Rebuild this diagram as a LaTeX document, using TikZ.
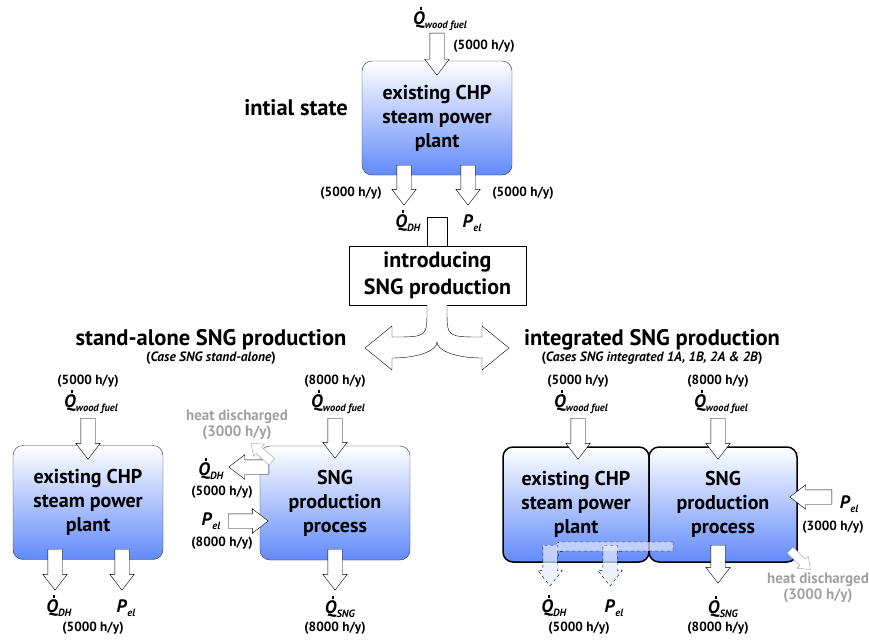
\documentclass[tikz,border=0pt]{standalone}
\usepackage{fontspec}
\setmainfont{PT Sans}
\usetikzlibrary{shapes.arrows}
\definecolor{boxblue}{RGB}{98,138,250}
\definecolor{heatgray}{RGB}{160,160,160}
\newcommand{\dotQ}{\ooalign{\textit{Q}\cr\hidewidth\kern0.22em\smash{\raisebox{0.8em}{\rule{2.4pt}{2.4pt}}}\hidewidth\cr}}
\newcommand{\flowQ}[1]{\dotQ\raisebox{-0.5ex}{\fontsize{10.5}{10.5}\selectfont\textit{#1}}}
\newcommand{\flowP}{\textit{P}\raisebox{-0.5ex}{\fontsize{10.5}{10.5}\selectfont\textit{el}}}
\begin{document}
\begin{tikzpicture}[x=1pt,y=-1pt,
  plantbox/.style={draw=black!80, rounded corners=10pt, top color=white, bottom color=boxblue,
    minimum width=150pt, minimum height=114pt, align=center, font=\fontsize{20}{24}\selectfont\bfseries},
  intbox/.style={plantbox, draw=black, line width=1.5pt},
  barrow/.style={single arrow, draw, fill=white, inner xsep=0pt, inner ysep=7pt,
    single arrow head extend=5pt, single arrow tip angle=75, minimum width=0pt},
  heatarrow/.style={barrow, draw=heatgray, inner ysep=4pt, single arrow head extend=4pt},
  dasharrow/.style={barrow, dashed, draw=black, fill=white!85!boxblue, fill opacity=.7},
  hours/.style={font=\fontsize{13.3}{15}\selectfont\bfseries},
  flow/.style={font=\fontsize{18}{18}\selectfont\bfseries, inner sep=1pt},
  heat/.style={font=\fontsize{15}{16}\selectfont\bfseries, text=heatgray, align=center},
  title/.style={font=\fontsize{22.5}{26}\selectfont\bfseries},
  case/.style={font=\fontsize{13.5}{15}\selectfont\bfseries}]
\useasboundingbox (0,0) rectangle (869,642);

% initial state
\node[plantbox] (chp0) at (437,118) {existing CHP\\steam power\\plant};
\node[title] (init) at (296,108) {intial state};
\node[flow] (q0) at (440,21) {\flowQ{wood fuel}};
\node[hours] (h0) at (484,46) {(5000 h/y)};
\node[barrow, rotate=-90, minimum height=42pt, anchor=tail] (in0) at (437,33) {};
\node[barrow, rotate=-90, minimum height=40pt, anchor=tail] (dh0) at (404,165) {};
\node[barrow, rotate=-90, minimum height=40pt, anchor=tail] (el0) at (468,165) {};
\node[hours] (hdh0) at (351,193) {(5000 h/y)};
\node[hours] (hel0) at (523,193) {(5000 h/y)};
\node[flow] (qdh0) at (408,223) {\flowQ{DH}};
\node[flow] (pel0) at (472,223) {\flowP};

% introducing SNG
\node[draw, minimum width=177pt, minimum height=59pt, align=center,
  font=\fontsize{22}{27}\selectfont\bfseries] (intro) at (437.5,275.5) {introducing\\SNG production};
\draw[fill=white] ([xshift=-10pt]intro.north) -- ++(0,-29) -- ++(20,0) -- ++(0,29);
\draw[fill=white] (427,305) -- (427,310) .. controls (427,337) .. (392,337) -- (392,326) -- (365,348)
  -- (392,370) -- (392,358) .. controls (420,358) and (437,350) .. (437,342)
  .. controls (437,350) and (454,358) .. (482,358) -- (482,370) -- (509,348) -- (482,326)
  -- (482,337) .. controls (447,337) .. (447,310) -- (447,305);
\node[title] (tsa) at (211,340) {stand-alone SNG production};
\node[case] (csa) at (211,358) {(\textit{Case SNG stand-alone})};
\node[title] (tint) at (652,340) {integrated SNG production};
\node[case] (cint) at (652,358) {(\textit{Cases SNG integrated 1A, 1B, 2A \& 2B})};

% stand-alone
\node[plantbox] (chpA) at (88,502.5) {existing CHP\\steam power\\plant};
\node[hours] (hA) at (88,381) {(5000 h/y)};
\node[flow] (qA) at (91,404) {\flowQ{wood fuel}};
\node[barrow, rotate=-90, minimum height=41pt, anchor=tail] (inA) at (88,418) {};
\node[barrow, rotate=-90, minimum height=41pt, anchor=tail] (dhA) at (55,549) {};
\node[barrow, rotate=-90, minimum height=41pt, anchor=tail] (elA) at (122,549) {};
\node[flow] (qdhA) at (59,608) {\flowQ{DH}};
\node[flow] (pelA) at (126,608) {\flowP};
\node[hours] (hdhA) at (93,628) {(5000 h/y)};

\node[plantbox] (sngA) at (335,503) {SNG\\production\\process};
\node[hours] (hsA) at (335,381) {(8000 h/y)};
\node[flow] (qsA) at (338,404) {\flowQ{wood fuel}};
\node[barrow, rotate=-90, minimum height=40pt, anchor=tail] (insA) at (335,418) {};
\node[barrow, rotate=180, minimum height=40pt, anchor=tail] (dhsA) at (269,467) {};
\node[flow] (qdhsA) at (211,471) {\flowQ{DH}};
\node[hours] (hdhsA) at (222,492) {(5000 h/y)};
\node[heatarrow, rotate=138, minimum height=28pt, anchor=tail] (heatA) at (272,462) {};
\node[heat] (theatA) at (237,425) {heat discharged\\(3000 h/y)};
\node[barrow, minimum height=40pt, anchor=tail] (elsA) at (228,521) {};
\node[flow] (pelsA) at (211,521) {\flowP};
\node[hours] (helsA) at (222,543) {(8000 h/y)};
\node[barrow, rotate=-90, minimum height=41pt, anchor=tail] (sngoutA) at (335,549) {};
\node[flow] (qsngA) at (340,609) {\flowQ{SNG}};
\node[hours] (hsngA) at (335,628) {(8000 h/y)};

% integrated
\node[intbox, minimum width=146pt, minimum height=115pt] (chpB) at (576,504.5) {existing CHP\\steam power\\plant};
\node[intbox, minimum width=148pt, minimum height=115pt] (sngB) at (723,504.5) {SNG\\production\\process};
\node[hours] (hB) at (578,381) {(5000 h/y)};
\node[flow] (qB) at (581,404) {\flowQ{wood fuel}};
\node[barrow, rotate=-90, minimum height=41pt, anchor=tail] (inB) at (578,418) {};
\node[hours] (hsB) at (718,381) {(8000 h/y)};
\node[flow] (qsB) at (721,404) {\flowQ{wood fuel}};
\node[barrow, rotate=-90, minimum height=41pt, anchor=tail] (insB) at (718,418) {};
\node[barrow, rotate=180, minimum height=42pt, anchor=tail] (elsB) at (832,497) {};
\node[flow] (pelsB) at (849,504) {\flowP};
\node[hours] (helsB) at (833,527) {(3000 h/y)};
\node[heatarrow, rotate=-44, minimum height=28pt, anchor=tail] (heatB) at (790,550) {};
\node[heat] (theatB) at (818,588) {heat discharged\\(3000 h/y)};
\node[barrow, rotate=-90, minimum height=38pt, anchor=tail] (sngoutB) at (718,545) {};
\node[flow] (qsngB) at (723,609) {\flowQ{SNG}};
\node[hours] (hsngB) at (718,628) {(8000 h/y)};
% heat pipe to the plant outputs
\fill[white!80!boxblue, opacity=.7] (556,542) rectangle (673,551);
\draw[dashed] (673,542) -- (565,542) .. controls (555,542) .. (555,552);
\draw[dashed] (673,542) -- (673,551) -- (626,551) .. controls (616,551) .. (616,560);
\draw[dashed] (605,551) -- (565,551) .. controls (560,551) .. (558,556);
\node[dasharrow, rotate=-90, minimum height=41pt, anchor=tail] (dhB) at (550,545) {};
\node[dasharrow, rotate=-90, minimum height=41pt, anchor=tail] (elB) at (610,545) {};
\node[flow] (qdhB) at (554,608) {\flowQ{DH}};
\node[flow] (pelB) at (614,608) {\flowP};
\node[hours] (hdhB) at (579,628) {(5000 h/y)};

\end{tikzpicture}
\end{document}
